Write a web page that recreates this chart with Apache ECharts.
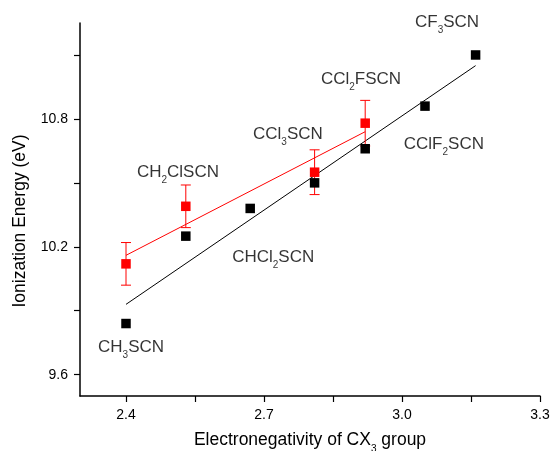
<!DOCTYPE html>
<html><head><meta charset="utf-8">
<script src="https://cdn.jsdelivr.net/npm/echarts@6/dist/echarts.min.js"></script>
<style>html,body{margin:0;padding:0;background:#fff}#c{width:551px;height:451px}</style>
</head><body><div id="c"></div>
<script>
// ---- data ----
var compounds = ['CH3SCN','CH2ClSCN','CHCl2SCN','CCl3SCN','CCl2FSCN','CClF2SCN','CF3SCN'];
var electroneg = [2.40, 2.53, 2.67, 2.81, 2.92, 3.05, 3.16];
var ieBlack = [9.84, 10.25, 10.38, 10.50, 10.66, 10.86, 11.10];
var redX = [2.40, 2.53, 2.81, 2.92];
var ieRed = [10.12, 10.39, 10.55, 10.78];
var redErr = [0.10, 0.10, 0.105, 0.107];
var blackFitX = [2.40, 3.16];
var blackFitY = [9.93, 11.05];
var redFitX = [2.40, 2.92];
var redFitY = [10.16, 10.74];
var xMajorTicks = [2.4, 2.7, 3.0, 3.3];
var xAllTicks = [2.4, 2.55, 2.7, 2.85, 3.0, 3.15, 3.3];
var yMajorTicks = [9.6, 10.2, 10.8];
var yAllTicks = [9.6, 9.9, 10.2, 10.5, 10.8, 11.1];
var compoundLabels = ['{n|CH}{s|3}{n|SCN}','{n|CH}{s|2}{n|ClSCN}','{n|CHCl}{s|2}{n|SCN}','{n|CCl}{s|3}{n|SCN}','{n|CCl}{s|2}{n|FSCN}','{n|CClF}{s|2}{n|SCN}','{n|CF}{s|3}{n|SCN}'];
var xTitle = '{n|Electronegativity of CX}{s|3}{n| group}';
var yTitle = 'Ionization Energy (eV)';

// ---- annotation placement (data coords) ----
var labelAnchors = [[2.411,9.73],[2.513,10.551],[2.72,10.152],[2.752,10.729],[2.911,10.987],[3.091,10.682],[3.098,11.255]];

var FONT = 'Liberation Sans, Arial, sans-serif';
var pairs = function(a,b){return a.map(function(v,i){return [v,b[i]];});};
function subRich(big){
  return {
    n:{fontSize:big,fontFamily:FONT,color:'#000',lineHeight:20},
    s:{fontSize:10,fontFamily:FONT,color:'#000',lineHeight:10,padding:[17,0,0,0]}
  };
}

var chart = echarts.init(document.getElementById('c'));
chart.setOption({
  animation:false,
  grid:{left:80,right:11,top:23,bottom:55,outerBoundsMode:'none',containLabel:false},
  graphic:[{type:'text',x:20,y:221,rotation:Math.PI/2,
    style:{text:yTitle,fontSize:17.5,fontFamily:FONT,fill:'#000',align:'center',verticalAlign:'middle'}}],
  xAxis:{type:'value',min:2.3,max:3.3,
    name:xTitle,nameLocation:'middle',nameGap:33,
    nameTextStyle:{rich:subRich(17.5)},
    axisLine:{show:true,onZero:false,lineStyle:{color:'#000',width:1.5}},
    axisTick:{show:true,customValues:xAllTicks,length:6,lineStyle:{color:'#000',width:1.2}},
    axisLabel:{customValues:xMajorTicks,formatter:function(v){return v.toFixed(1);},color:'#000',fontSize:14,fontFamily:FONT,margin:12},
    splitLine:{show:false}},
  yAxis:{type:'value',min:9.5,max:11.25,
    axisLine:{show:true,onZero:false,lineStyle:{color:'#000',width:1.5}},
    axisTick:{show:true,customValues:yAllTicks,length:6,lineStyle:{color:'#000',width:1.2}},
    axisLabel:{customValues:yMajorTicks,formatter:function(v){return v.toFixed(1);},color:'#000',fontSize:14,fontFamily:FONT,margin:12},
    splitLine:{show:false}},
  series:[
    {type:'line',data:pairs(blackFitX,blackFitY),symbol:'none',lineStyle:{color:'#000',width:1},z:2},
    {type:'line',data:pairs(redFitX,redFitY),symbol:'none',lineStyle:{color:'#ff0000',width:1},z:2},
    {type:'custom',z:3,data:redX.map(function(x,i){return [x,ieRed[i],redErr[i]];}),
      renderItem:function(params,api){
        var x=api.value(0),y=api.value(1),e=api.value(2);
        var top=api.coord([x,y+e]),bot=api.coord([x,y-e]);
        var w=5;
        var st={stroke:'#ff0000',lineWidth:1};
        return {type:'group',children:[
          {type:'line',shape:{x1:top[0],y1:top[1],x2:bot[0],y2:bot[1]},style:st},
          {type:'line',shape:{x1:top[0]-w,y1:top[1],x2:top[0]+w,y2:top[1]},style:st},
          {type:'line',shape:{x1:bot[0]-w,y1:bot[1],x2:bot[0]+w,y2:bot[1]},style:st}
        ]};
      }},
    {type:'scatter',data:pairs(electroneg,ieBlack),symbol:'rect',symbolSize:9.5,itemStyle:{color:'#000',opacity:1},z:4},
    {type:'scatter',data:pairs(redX,ieRed),symbol:'rect',symbolSize:9.5,itemStyle:{color:'#ff0000',opacity:1},z:5},
    {type:'scatter',z:6,symbolSize:1,clip:false,itemStyle:{color:'rgba(0,0,0,0)'},silent:true,
      data:labelAnchors.map(function(p,i){return {value:p,label:{formatter:compoundLabels[i]}};}),
      label:{show:true,position:'inside',rich:subRich(17)}}
  ]
});
</script></body></html>
